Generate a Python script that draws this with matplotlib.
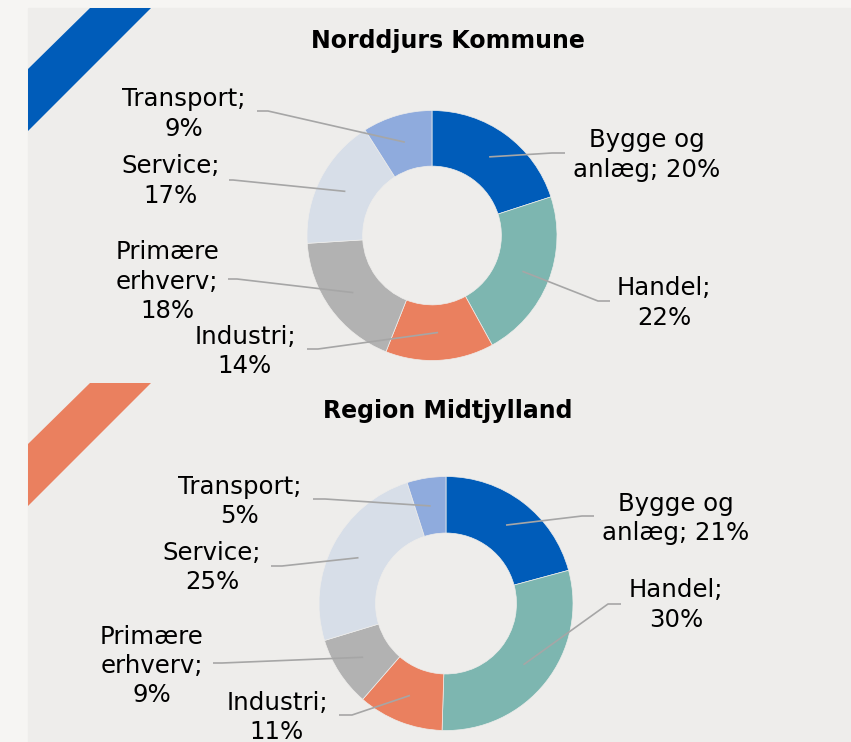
import numpy as np
import matplotlib.pyplot as plt
from matplotlib.patches import Polygon, Rectangle

# Data
sectors = ["Bygge og anlæg", "Handel", "Industri", "Primære erhverv", "Service", "Transport"]
wrapped = ["Bygge og\nanlæg; ", "Handel;\n", "Industri;\n", "Primære\nerhverv;\n", "Service;\n", "Transport;\n"]
norddjurs = [20, 22, 14, 18, 17, 9]
midtjylland = [21, 30, 11, 9, 25, 5]
titles = ["Norddjurs Kommune", "Region Midtjylland"]

colors = ["#005cb9", "#7db6b0", "#ea805f", "#b2b2b2", "#d7dee8", "#8fabdd"]

W, H = 851, 742
BG_OUT = "#f6f5f3"
BG_IN = "#eeedeb"
LINE = "#a6a6a6"

# layout (pixel coords, y from top)
centers = [(432, 235.5), (446, 603.5)]
radii = [125, 127]
title_pos = [(448, 41), (448, 411)]
label_pos = [
    [(647, 155), (664, 303), (245, 351.5), (167, 281.5), (171, 181), (184, 114)],
    [(676, 518.5), (676, 605), (277, 717.5), (152, 666), (212, 567.5), (240, 501.5)],
]
leader_start = [
    [(565, 153), (610, 301), (307, 349), (228, 279), (229, 180), (257, 111)],
    [(594, 516), (621, 604), (339, 715), (213, 663), (271, 566), (313, 499)],
]
leader_elbow = [
    [(552, 153), (598, 301), (318, 349), (237, 279), (233, 180), (268, 111)],
    [(582, 516), (608, 604), (352, 715), (222, 663), (282, 566), (325, 499)],
]
stripes = [
    [(28, 69), (90, 8), (151, 8), (28, 131)],
    [(28, 444), (90, 383), (151, 383), (28, 506)],
]
stripe_colors = ["#005cb9", "#ea805f"]


def up(p):
    return (p[0], H - p[1])


fig = plt.figure(figsize=(W / 100, H / 100), dpi=100, facecolor=BG_OUT)
ax = fig.add_axes([0, 0, 1, 1])
ax.set_facecolor(BG_OUT)

ax.add_patch(Rectangle((28, 0), W - 29, H - 8, color=BG_IN, zorder=0))
for pts, c in zip(stripes, stripe_colors):
    ax.add_patch(Polygon([up(p) for p in pts], closed=True, color=c, lw=0, zorder=1))

for k, values in enumerate([norddjurs, midtjylland]):
    cx, cy = up(centers[k])
    r = radii[k]
    ring = r * 0.445
    wedges, _ = ax.pie(values, colors=colors, startangle=90, counterclock=False,
                       center=(cx, cy), radius=r,
                       wedgeprops=dict(width=ring, edgecolor=BG_IN, linewidth=0.5))
    for w in wedges:
        w.set_zorder(2)

    ax.text(*up(title_pos[k]), titles[k], ha="center", va="center",
            fontsize=17, fontweight="bold", color="black", zorder=4)

    for i, v in enumerate(values):
        w = wedges[i]
        mid = np.deg2rad((w.theta1 + w.theta2) / 2)
        rm = r - ring / 2
        anchor = (cx + rm * np.cos(mid), cy + rm * np.sin(mid))
        s = up(leader_start[k][i])
        e = up(leader_elbow[k][i])
        ax.plot([s[0], e[0], anchor[0]], [s[1], e[1], anchor[1]],
                color=LINE, lw=1.2, zorder=3, solid_capstyle="butt")
        pct = "%d%%" % round(v)
        ax.text(*up(label_pos[k][i]), wrapped[i] + pct, ha="center", va="center",
                multialignment="center", fontsize=17.6, color="black",
                linespacing=1.27, zorder=4)

ax.set_xlim(0, W)
ax.set_ylim(0, H)
ax.set_aspect("equal")
ax.axis("off")

fig.savefig("out.png", dpi=100, facecolor=BG_OUT)
